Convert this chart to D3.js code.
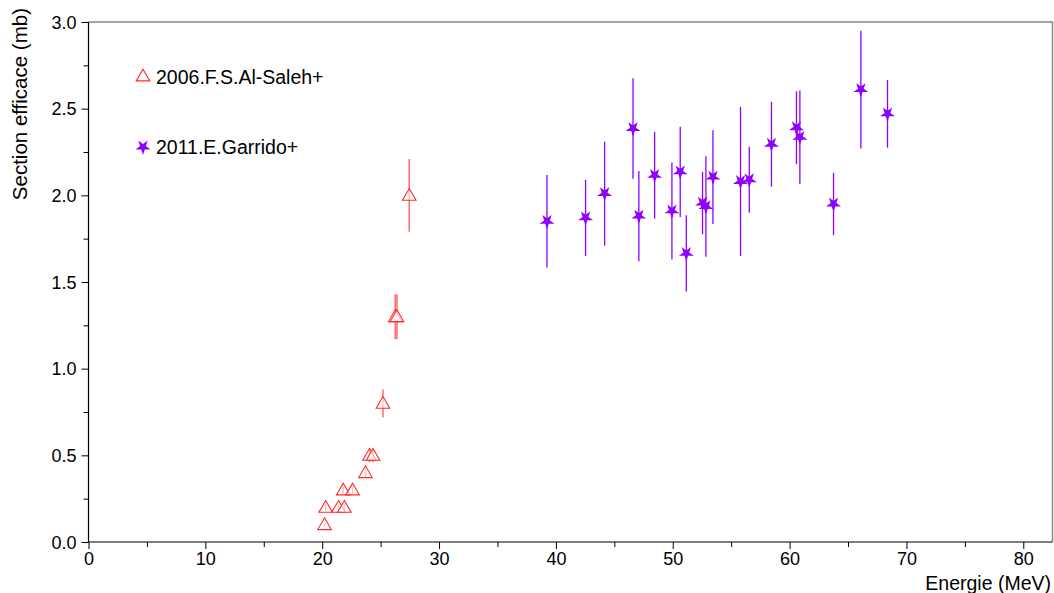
<!DOCTYPE html>
<html><head><meta charset="utf-8">
<script src="https://cdn.jsdelivr.net/npm/d3@7"></script>
<style>body{margin:0;background:#fff}svg{display:block;font-family:"Liberation Sans",Arial,sans-serif}</style>
</head><body><svg id="c" width="1054" height="593"></svg>
<script>
// Series 1: 2006.F.S.Al-Saleh+
const salehE   = [20.2, 20.3, 21.4, 21.9, 21.8, 22.6, 23.7, 24.05, 24.35, 25.2, 26.25, 26.4, 27.45];
const salehSig = [0.10, 0.20, 0.20, 0.20, 0.30, 0.30, 0.40, 0.50, 0.50, 0.80, 1.30, 1.30, 2.00];
const salehErr = [0.01, 0.02, 0.02, 0.02, 0.02, 0.02, 0.03, 0.04, 0.04, 0.08, 0.13, 0.13, 0.21];
// Series 2: 2011.E.Garrido+
const garE   = [39.24, 42.54, 44.17, 46.6, 47.1, 48.45, 49.93, 50.64, 51.16, 52.55, 52.84, 53.44, 55.8, 56.55, 58.45, 60.59, 60.88, 63.76, 66.1, 68.38];
const garSig = [1.85, 1.87, 2.01, 2.385, 1.88, 2.115, 1.91, 2.135, 1.665, 1.955, 1.935, 2.105, 2.08, 2.09, 2.295, 2.39, 2.335, 1.95, 2.61, 2.47];
const garErr = [0.267, 0.22, 0.30, 0.29, 0.26, 0.25, 0.28, 0.26, 0.22, 0.18, 0.29, 0.27, 0.43, 0.19, 0.245, 0.21, 0.27, 0.18, 0.34, 0.195];
const seriesNames = ["2006.F.S.Al-Saleh+", "2011.E.Garrido+"];
const xTicks = [0, 10, 20, 30, 40, 50, 60, 70, 80];
const yTicks = [0, 0.5, 1.0, 1.5, 2.0, 2.5, 3.0];
const xLabel = "Energie (MeV)";
const yLabel = "Section efficace (mb)";

const svg = d3.select("#c");
const L = 88.5, R = 1052.5, T = 22, B = 542;
const x = d3.scaleLinear().domain([0, 82.5]).range([L, R]);
const y = d3.scaleLinear().domain([0, 3]).range([B, T]);
const red = "#ff2a2a", purple = "#9000ff";

// frame (top, right)
svg.append("path").attr("d", `M${L},${T}H${R}V${B}`).attr("fill","none").attr("stroke","#888").attr("stroke-width",1.5);

// axes
const fs = "18px";
const xAx = svg.append("g").attr("transform",`translate(0,${B})`)
  .call(d3.axisBottom(x).tickValues(xTicks).tickSize(7).tickPadding(3).tickFormat(d3.format("d")));
const xMin = svg.append("g").attr("transform",`translate(0,${B})`)
  .call(d3.axisBottom(x).tickValues(d3.range(5, 82, 10)).tickSize(5).tickFormat(""));
const yAx = svg.append("g").attr("transform",`translate(${L},0)`)
  .call(d3.axisLeft(y).tickValues(yTicks).tickSize(7).tickPadding(5).tickFormat(d3.format(".1f")));
const yMin = svg.append("g").attr("transform",`translate(${L},0)`)
  .call(d3.axisLeft(y).tickValues([0.25,0.75,1.25,1.75,2.25,2.75]).tickSize(5).tickFormat(""));
[xAx,xMin,yAx,yMin].forEach(g=>{
  g.selectAll("text").attr("font-size",fs).attr("fill","#000").attr("font-family","'Liberation Sans',Arial,sans-serif");
  g.selectAll("line").attr("stroke","#000");
  g.select(".domain").remove();
});
yAx.selectAll("text").attr("dy","0.35em");
svg.append("line").attr("x1",L).attr("x2",R).attr("y1",B).attr("y2",B).attr("stroke","#000").attr("stroke-width",1.2);
svg.append("line").attr("x1",L).attr("x2",L).attr("y1",T).attr("y2",B).attr("stroke","#000").attr("stroke-width",1.2);

svg.append("text").attr("x",1051).attr("y",590).attr("text-anchor","end").attr("font-size","19.5px").text(xLabel);
svg.append("text").attr("transform","translate(27,8) rotate(-90)").attr("text-anchor","end").attr("font-size","20.5px").text(yLabel);

// error bars
const saleh = salehE.map((e,i)=>({e, s:salehSig[i], d:salehErr[i]}));
const gar = garE.map((e,i)=>({e, s:garSig[i], d:garErr[i]}));
svg.append("g").selectAll("line").data(saleh).join("line")
  .attr("x1",d=>x(d.e)).attr("x2",d=>x(d.e)).attr("y1",d=>y(d.s-d.d)).attr("y2",d=>y(d.s+d.d))
  .attr("stroke",red).attr("stroke-opacity",0.7).attr("stroke-width",1.5);
svg.append("g").selectAll("line").data(gar).join("line")
  .attr("x1",d=>x(d.e)).attr("x2",d=>x(d.e)).attr("y1",d=>y(d.s-d.d)).attr("y2",d=>y(d.s+d.d))
  .attr("stroke",purple).attr("stroke-width",1.3);

// markers
const tri = d3.symbol().type(d3.symbolTriangle).size(80);
const star = d3.symbol().type(d3.symbolStar).size(70);
svg.append("g").selectAll("path").data(saleh).join("path")
  .attr("d",tri).attr("transform",d=>`translate(${x(d.e)},${y(d.s)+1})`)
  .attr("fill","#fff").attr("fill-opacity",0.6).attr("stroke",red).attr("stroke-width",1.1);
svg.append("g").selectAll("path").data(gar).join("path")
  .attr("d",star).attr("transform",d=>`translate(${x(d.e)},${y(d.s)}) rotate(180)`)
  .attr("fill",purple);

// legend
const lg = svg.append("g");
lg.append("path").attr("d",tri).attr("transform","translate(143,77)").attr("fill","#fff").attr("stroke",red).attr("stroke-width",1.1);
lg.append("text").attr("x",156).attr("y",83.5).attr("font-size","19.5px").text(seriesNames[0]);
lg.append("path").attr("d",star).attr("transform","translate(143,147) rotate(180)").attr("fill",purple);
lg.append("text").attr("x",156).attr("y",154).attr("font-size","19.5px").text(seriesNames[1]);
</script></body></html>
